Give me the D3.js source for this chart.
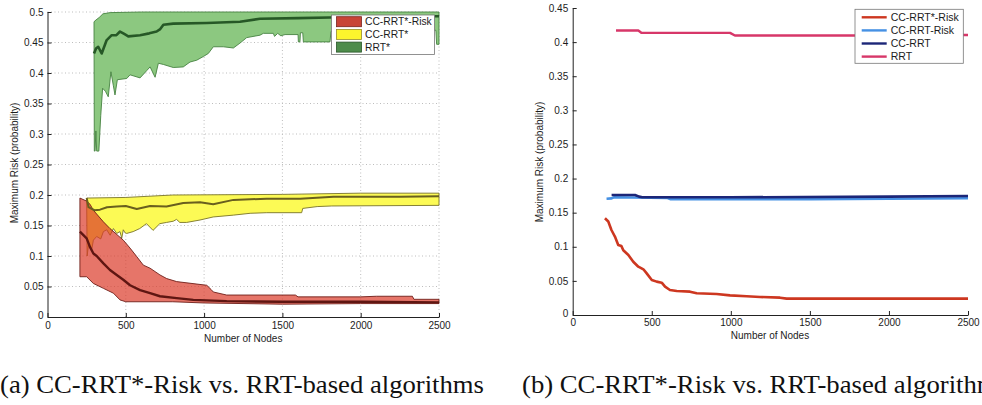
<!DOCTYPE html>
<html>
<head>
<meta charset="utf-8">
<script src="https://cdn.jsdelivr.net/npm/d3@7/dist/d3.min.js"></script>
<style>
  html, body { margin: 0; padding: 0; background: #fff; }
  svg { display: block; }
  .tick text { font-family: "Liberation Sans", Arial, sans-serif; font-size: 10px; fill: #1c1c1c; }
  .axis path, .axis line { stroke: #222; }
</style>
</head>
<body>
<svg id="chart" width="982" height="405"></svg>
<script>
// ---- shared tick values ----
const nodeTicks = [0, 500, 1000, 1500, 2000, 2500];
const riskTicksA = [0, 0.05, 0.1, 0.15, 0.2, 0.25, 0.3, 0.35, 0.4, 0.45, 0.5];
const riskTicksB = [0, 0.05, 0.1, 0.15, 0.2, 0.25, 0.3, 0.35, 0.4, 0.45];

// ---- panel (a): min / mean / max envelopes, [nodes, risk] ----
const rrtStarUpper = [[297,0.484],[310,0.487],[330,0.491],[354,0.497],[400,0.499],[600,0.5],[2500,0.5]];
const rrtStarLower = [[297,0.484],[299,0.272],[304,0.272],[309,0.305],[314,0.272],[328,0.272],[340,0.33],
  [352,0.375],[370,0.37],[388,0.361],[405,0.402],[420,0.38],[431,0.364],[446,0.389],[506,0.391],[527,0.397],
  [591,0.392],[634,0.404],[655,0.41],[687,0.393],[708,0.416],[740,0.414],[803,0.409],[867,0.41],[910,0.418],
  [953,0.421],[995,0.427],[1027,0.432],[1059,0.443],[1123,0.443],[1187,0.441],[1229,0.449],[1272,0.458],
  [1357,0.462],[1378,0.465],[1442,0.465],[1450,0.46],[1470,0.465],[1490,0.461],[1517,0.463],[1600,0.463],
  [1602,0.451],[1612,0.451],[1615,0.466],[1630,0.466],[1634,0.451],[1804,0.451],[1810,0.468],[2000,0.47],
  [2300,0.47],[2480,0.47],[2485,0.447],[2500,0.447]];
const rrtStarMean = [[297,0.432],[310,0.44],[324,0.443],[346,0.432],[378,0.454],[410,0.462],[440,0.462],
  [463,0.468],[490,0.464],[516,0.46],[591,0.462],[650,0.465],[697,0.468],[720,0.472],[740,0.479],[803,0.481],
  [1017,0.482],[1229,0.484],[1357,0.489],[1600,0.49],[1800,0.491],[2000,0.492],[2300,0.493],[2500,0.493]];

const ccRrtStarUpper = [[250,0.195],[500,0.196],[800,0.2],[1500,0.201],[2000,0.203],[2500,0.203]];
const ccRrtStarLower = [[250,0.195],[253,0.1],[262,0.118],[271,0.113],[282,0.11],[293,0.126],[314,0.132],
  [340,0.128],[357,0.14],[378,0.143],[400,0.134],[421,0.145],[442,0.137],[463,0.14],[474,0.129],[484,0.143],
  [495,0.138],[506,0.137],[547,0.14],[589,0.145],[632,0.153],[674,0.142],[717,0.153],[760,0.155],[803,0.157],
  [824,0.16],[845,0.155],[888,0.155],[974,0.159],[1058,0.164],[1187,0.167],[1294,0.17],[1400,0.171],
  [1623,0.171],[1630,0.178],[1722,0.181],[1815,0.182],[2500,0.183]];
const ccRrtStarMean = [[250,0.195],[262,0.18],[300,0.175],[335,0.176],[380,0.18],[442,0.181],[500,0.182],
  [570,0.177],[655,0.182],[760,0.181],[867,0.187],[974,0.188],[1058,0.185],[1187,0.192],[1400,0.194],
  [1613,0.194],[1826,0.197],[2040,0.197],[2250,0.197],[2500,0.198]];

const ccRrtStarRiskUpper = [[207,0.195],[250,0.19],[271,0.185],[293,0.175],[357,0.156],[399,0.145],
  [484,0.126],[527,0.113],[570,0.099],[612,0.085],[655,0.08],[718,0.069],[761,0.063],[825,0.058],
  [1017,0.052],[1045,0.045],[1059,0.041],[1144,0.036],[1583,0.036],[1600,0.033],[2000,0.033],
  [2100,0.034],[2330,0.034],[2340,0.029],[2500,0.029]];
const ccRrtStarRiskLower = [[207,0.066],[250,0.066],[293,0.055],[357,0.047],[421,0.039],[463,0.028],
  [500,0.025],[800,0.025],[1000,0.023],[1500,0.021],[2000,0.022],[2500,0.022]];
const ccRrtStarRiskMean = [[207,0.14],[250,0.129],[271,0.115],[293,0.104],[314,0.1],[357,0.088],
  [399,0.077],[442,0.069],[484,0.061],[527,0.052],[591,0.044],[655,0.039],[718,0.034],[825,0.031],
  [931,0.028],[1144,0.026],[1500,0.025],[2000,0.025],[2500,0.024]];

const legendA = ["CC-RRT*-Risk", "CC-RRT*", "RRT*"];

// ---- panel (b): mean maximum risk per planner ----
const rrtLine = [[274,0.417],[415,0.417],[436,0.4135],[995,0.4135],[1026,0.4096],[2000,0.4096],
  [2450,0.4105],[2500,0.4105]];
const ccRrtLine = [[246,0.176],[394,0.176],[420,0.1735],[440,0.1725],[1000,0.1725],[2000,0.1735],[2500,0.1745]];
const ccRrtRiskLine = [[214,0.1705],[246,0.171],[260,0.1725],[600,0.1715],[620,0.1698],[1500,0.1698],
  [2000,0.1705],[2500,0.1712]];
const ccRrtStarRiskLine = [[204,0.1418],[225,0.137],[245,0.1246],[267,0.115],[288,0.1026],[308,0.101],
  [320,0.095],[352,0.088],[383,0.078],[415,0.0708],[447,0.067],[468,0.061],[500,0.0513],[531,0.0489],
  [563,0.0474],[584,0.0415],[615,0.0367],[658,0.0352],[742,0.0342],[784,0.0318],[910,0.0308],[995,0.0288],
  [1100,0.0274],[1185,0.0264],[1311,0.0254],[1353,0.024],[2000,0.024],[2500,0.024]];

const legendB = ["CC-RRT*-Risk", "CC-RRT-Risk", "CC-RRT", "RRT"];

const captionA = "(a) CC-RRT*-Risk vs. RRT-based algorithms";
const captionB = "(b) CC-RRT*-Risk vs. RRT-based algorithms";

const svg = d3.select("#chart");
svg.append("rect").attr("width", 982).attr("height", 405).attr("fill", "#fff");

const sans = "'Liberation Sans', Arial, sans-serif";

// ================= Panel (a) =================
const xA = d3.scaleLinear().domain([0, 2500]).range([47.5, 439]);
const yA = d3.scaleLinear().domain([0, 0.5]).range([317, 12]);
const gA = svg.append("g");

// dotted grid
gA.append("g").selectAll("line").data(riskTicksA.filter(d => d > 0)).join("line")
  .attr("x1", xA(0)).attr("x2", xA(2500)).attr("y1", d => yA(d)).attr("y2", d => yA(d))
  .attr("stroke", "#bdbdbd").attr("stroke-width", 1).attr("stroke-dasharray", "1,2.5");
gA.append("g").selectAll("line").data(nodeTicks.filter(d => d > 0)).join("line")
  .attr("x1", d => xA(d)).attr("x2", d => xA(d)).attr("y1", yA(0)).attr("y2", yA(0.5))
  .attr("stroke", "#bdbdbd").attr("stroke-width", 1).attr("stroke-dasharray", "1,2.5");

const lineA = d3.line().x(d => xA(d[0])).y(d => yA(d[1]));
function band(upper, lower, fill, opacity, edge) {
  const poly = upper.concat(lower.slice().reverse());
  gA.append("path").attr("d", lineA(poly) + "Z")
    .attr("fill", fill).attr("fill-opacity", opacity)
    .attr("stroke", edge).attr("stroke-width", 0.9).attr("stroke-linejoin", "round");
}
band(rrtStarUpper, rrtStarLower, "rgb(140,200,128)", 1, "rgb(70,130,65)");
band(ccRrtStarUpper, ccRrtStarLower, "rgb(252,250,85)", 1, "rgb(120,115,40)");
band(ccRrtStarRiskUpper, ccRrtStarRiskLower, "rgb(220,58,42)", 0.7, "rgb(110,30,25)");

function meanLine(data, color, w) {
  gA.append("path").attr("d", lineA(data)).attr("fill", "none")
    .attr("stroke", color).attr("stroke-width", w).attr("stroke-linejoin", "round");
}
meanLine(ccRrtStarMean, "rgb(105,95,30)", 2);
meanLine(ccRrtStarRiskMean, "rgb(95,22,18)", 2.4);
meanLine(rrtStarMean, "rgb(38,88,38)", 2.6);

// axes (ticks point inward)
gA.append("g").attr("class", "axis").attr("transform", `translate(0,${yA(0)})`)
  .call(d3.axisBottom(xA).tickValues(nodeTicks).tickFormat(d3.format("d"))
    .tickSizeInner(-4).tickSizeOuter(0).tickPadding(5));
const axA_y = gA.append("g").attr("class", "axis").attr("transform", `translate(${xA(0)},0)`)
  .call(d3.axisLeft(yA).tickValues(riskTicksA).tickFormat(d => d === 0 ? "0" : String(d))
    .tickSizeInner(-4).tickSizeOuter(0).tickPadding(4));
axA_y.selectAll(".tick text").filter(d => d === 0).attr("dy", "0.1em");

gA.append("text").attr("x", (xA(0) + xA(2500)) / 2).attr("y", 342)
  .attr("text-anchor", "middle").attr("font-family", sans).attr("font-size", 10).attr("fill", "#1c1c1c")
  .text("Number of Nodes");
gA.append("text").attr("transform", "translate(14,163) rotate(-90)").attr("dy", "0.35em")
  .attr("text-anchor", "middle").attr("font-family", sans).attr("font-size", 10).attr("fill", "#1c1c1c")
  .text("Maximum Risk (probability)");

// legend (a)
const legA = gA.append("g").attr("transform", "translate(331.5,15)");
legA.append("rect").attr("width", 103).attr("height", 39.5).attr("fill", "#fff")
  .attr("stroke", "#777").attr("stroke-width", 0.8);
const swatchA = [["rgb(200,68,55)", "rgb(120,35,30)"], ["rgb(252,245,45)", "rgb(150,140,40)"], ["rgb(78,140,75)", "rgb(40,85,40)"]];
legendA.forEach((name, i) => {
  const cy = 6.7 + i * 12.7;
  legA.append("rect").attr("x", 5).attr("y", cy - 5).attr("width", 25).attr("height", 10)
    .attr("fill", swatchA[i][0]).attr("stroke", swatchA[i][1]).attr("stroke-width", 0.8);
  legA.append("text").attr("x", 33.5).attr("y", cy).attr("dy", "0.36em")
    .attr("font-family", sans).attr("font-size", 10.3).attr("fill", "#1c1c1c").text(name);
});

// ================= Panel (b) =================
const xB = d3.scaleLinear().domain([0, 2500]).range([572.7, 968]);
const yB = d3.scaleLinear().domain([0, 0.45]).range([315, 8]);
const gB = svg.append("g");
const lineB = d3.line().x(d => xB(d[0])).y(d => yB(d[1]));

const seriesB = [
  { data: ccRrtRiskLine, color: "rgb(70,145,228)", w: 2.6 },
  { data: ccRrtLine, color: "rgb(28,38,120)", w: 2.6 },
  { data: rrtLine, color: "rgb(215,55,105)", w: 2.4 },
  { data: ccRrtStarRiskLine, color: "rgb(205,55,32)", w: 2.6 }
];
seriesB.forEach(s => {
  gB.append("path").attr("d", lineB(s.data)).attr("fill", "none")
    .attr("stroke", s.color).attr("stroke-width", s.w).attr("stroke-linejoin", "round");
});

gB.append("g").attr("class", "axis").attr("transform", `translate(0,${yB(0)})`)
  .call(d3.axisBottom(xB).tickValues(nodeTicks).tickFormat(d3.format("d"))
    .tickSizeInner(-4).tickSizeOuter(0).tickPadding(3.5));
const axB_y = gB.append("g").attr("class", "axis").attr("transform", `translate(${xB(0)},0)`)
  .call(d3.axisLeft(yB).tickValues(riskTicksB).tickFormat(d => d === 0 ? "0" : String(d))
    .tickSizeInner(-4).tickSizeOuter(0).tickPadding(4.5));
axB_y.selectAll(".tick text").filter(d => d === 0).attr("dy", "0.1em");

gB.append("text").attr("x", 770).attr("y", 338.5)
  .attr("text-anchor", "middle").attr("font-family", sans).attr("font-size", 10).attr("fill", "#1c1c1c")
  .text("Number of Nodes");
gB.append("text").attr("transform", "translate(539,162) rotate(-90)").attr("dy", "0.35em")
  .attr("text-anchor", "middle").attr("font-family", sans).attr("font-size", 10).attr("fill", "#1c1c1c")
  .text("Maximum Risk (probability)");

// legend (b)
const legB = gB.append("g").attr("transform", "translate(855,9.3)");
legB.append("rect").attr("width", 108.3).attr("height", 54).attr("fill", "#fff")
  .attr("stroke", "#777").attr("stroke-width", 0.8);
const legColorsB = ["rgb(205,55,32)", "rgb(70,145,228)", "rgb(28,38,120)", "rgb(215,55,105)"];
legendB.forEach((name, i) => {
  const cy = 8 + i * 13.1;
  legB.append("line").attr("x1", 6.7).attr("x2", 31.7).attr("y1", cy).attr("y2", cy)
    .attr("stroke", legColorsB[i]).attr("stroke-width", 2.4);
  legB.append("text").attr("x", 35.7).attr("y", cy).attr("dy", "0.36em")
    .attr("font-family", sans).attr("font-size", 10.5).attr("fill", "#1c1c1c").text(name);
});

// ================= Captions =================
const serif = "'Liberation Serif', 'DejaVu Serif', serif";
svg.append("text").attr("x", 0).attr("y", 393).attr("font-family", serif).attr("font-size", 25.5)
  .attr("fill", "#111").attr("textLength", 484).attr("lengthAdjust", "spacingAndGlyphs").text(captionA);
svg.append("text").attr("x", 522).attr("y", 393).attr("font-family", serif).attr("font-size", 25.5)
  .attr("fill", "#111").attr("textLength", 486).attr("lengthAdjust", "spacingAndGlyphs").text(captionB);
</script>
</body>
</html>
